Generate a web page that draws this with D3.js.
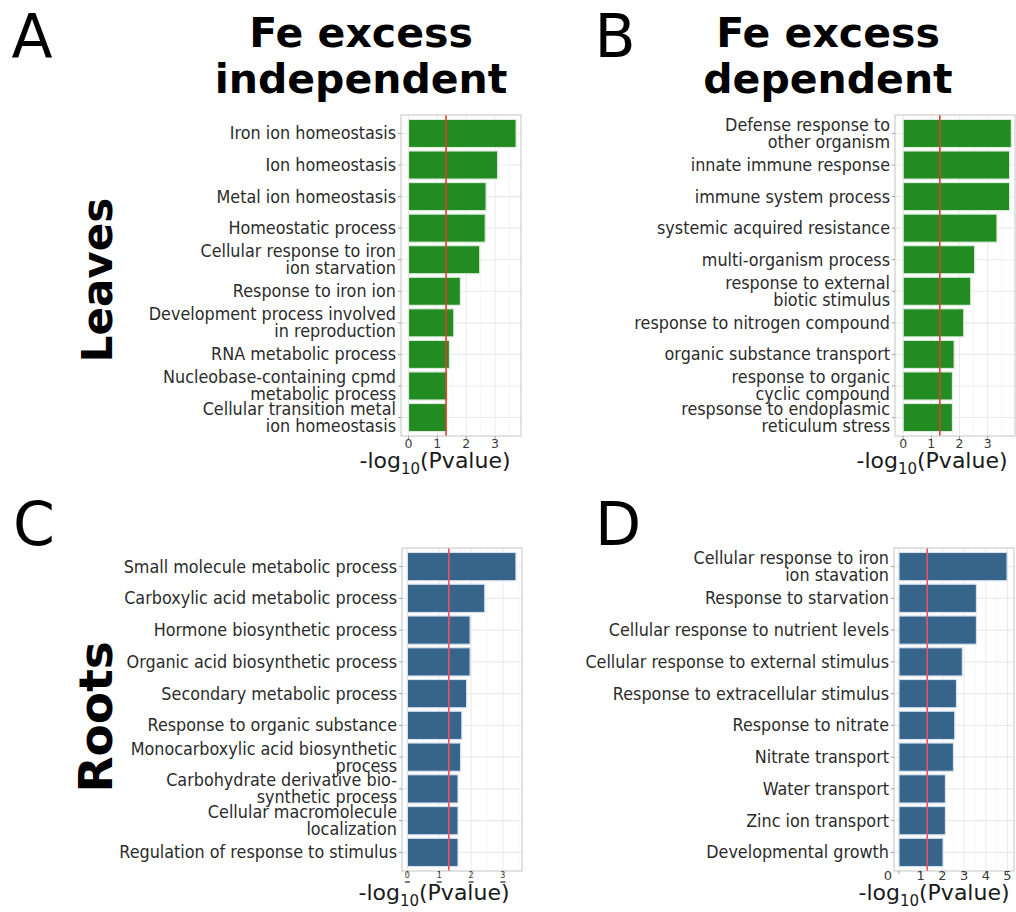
<!DOCTYPE html>
<html>
<head>
<meta charset="utf-8">
<script src="https://cdn.jsdelivr.net/npm/d3@7"></script>
<style>
  body { margin: 0; background: #fff; }
  svg { display: block; font-family: "DejaVu Sans", sans-serif; }
</style>
</head>
<body>
<svg id="chart" width="1016" height="912"></svg>
<script>
// GO enrichment of Fe-excess responsive genes, shown as -log10(P value)

const leavesIndependentTerms = [
  "Iron ion homeostasis",
  "Ion homeostasis",
  "Metal ion homeostasis",
  "Homeostatic process",
  "Cellular response to iron\nion starvation",
  "Response to iron ion",
  "Development process involved\nin reproduction",
  "RNA metabolic process",
  "Nucleobase-containing cpmd\nmetabolic process",
  "Cellular transition metal\nion homeostasis"
];
const leavesIndependentValues = [3.73, 3.09, 2.69, 2.66, 2.47, 1.80, 1.57, 1.42, 1.35, 1.33];

const leavesDependentTerms = [
  "Defense response to\nother organism",
  "innate immune response",
  "immune system process",
  "systemic acquired resistance",
  "multi-organism process",
  "response to external\nbiotic stimulus",
  "response to nitrogen compound",
  "organic substance transport",
  "response to organic\ncyclic compound",
  "respsonse to endoplasmic\nreticulum stress"
];
const leavesDependentValues = [3.84, 3.78, 3.78, 3.33, 2.54, 2.40, 2.15, 1.81, 1.75, 1.75];

const rootsIndependentTerms = [
  "Small molecule metabolic process",
  "Carboxylic acid metabolic process",
  "Hormone biosynthetic process",
  "Organic acid biosynthetic process",
  "Secondary metabolic process",
  "Response to organic substance",
  "Monocarboxylic acid biosynthetic\nprocess",
  "Carbohydrate derivative bio-\nsynthetic process",
  "Cellular macromolecule\nlocalization",
  "Regulation of response to stimulus"
];
const rootsIndependentValues = [3.41, 2.43, 1.97, 1.97, 1.86, 1.71, 1.67, 1.59, 1.59, 1.59];

const rootsDependentTerms = [
  "Cellular response to iron\nion stavation",
  "Response to starvation",
  "Cellular response to nutrient levels",
  "Cellular response to external stimulus",
  "Response to extracellular stimulus",
  "Response to nitrate",
  "Nitrate transport",
  "Water transport",
  "Zinc ion transport",
  "Developmental growth"
];
const rootsDependentValues = [4.98, 3.57, 3.57, 2.92, 2.65, 2.57, 2.51, 2.14, 2.14, 2.03];

const ticksLeaves = [0, 1, 2, 3];
const ticksRootsIndependent = [0, 1, 2, 3];
const ticksRootsDependent = [0, 1, 2, 3, 4, 5];

const columnTitles = ["Fe excess\nindependent", "Fe excess\ndependent"];
const rowTitles = ["Leaves", "Roots"];
const panelLetters = ["A", "B", "C", "D"];

// -log10(0.05)
const threshold = -Math.log10(0.05);

const GREEN = "#228b22";
const BLUE = "#36648b";

const panels = [
  { letter: 0, terms: leavesIndependentTerms, values: leavesIndependentValues, ticks: ticksLeaves,
    fill: GREEN, stroke: "#dcebdc", line: "#e0402a",
    l: 401, r: 521, t: 115, b: 436, dom: [-0.26, 3.9],
    tickFont: 12.5, tickY: 447.5, titleX: 435, titleY: 468, tiny: false },
  { letter: 1, terms: leavesDependentTerms, values: leavesDependentValues, ticks: ticksLeaves,
    fill: GREEN, stroke: "#dcebdc", line: "#e0402a",
    l: 895, r: 1015, t: 115, b: 436, dom: [-0.29, 3.97],
    tickFont: 12.5, tickY: 447.5, titleX: 932, titleY: 468, tiny: false },
  { letter: 2, terms: rootsIndependentTerms, values: rootsIndependentValues, ticks: ticksRootsIndependent,
    fill: BLUE, stroke: "#d6e1ec", line: "#ec5062",
    l: 402, r: 522, t: 548, b: 871, dom: [-0.17, 3.6],
    tickFont: 8, tickY: 878, titleX: 434, titleY: 900, tiny: true },
  { letter: 3, terms: rootsDependentTerms, values: rootsDependentValues, ticks: ticksRootsDependent,
    fill: BLUE, stroke: "#d6e1ec", line: "#ec5062",
    l: 894, r: 1014, t: 548, b: 871, dom: [-0.23, 5.3],
    tickFont: 13, tickY: 880, titleX: 934, titleY: 900, tiny: false }
];

const svg = d3.select("#chart");

panels.forEach(p => {
  const g = svg.append("g");
  const x = d3.scaleLinear().domain(p.dom).range([p.l, p.r]);
  const y = d3.scaleBand().domain(p.terms).range([p.t, p.b])
    .paddingInner(0.11).paddingOuter(0.14);

  // panel background + grid
  g.append("rect").attr("x", p.l).attr("y", p.t).attr("width", p.r - p.l).attr("height", p.b - p.t)
    .attr("fill", "#fff");
  const minor = d3.range(0.5, p.dom[1], 1);
  g.selectAll(".minor").data(minor).join("line")
    .attr("x1", d => x(d)).attr("x2", d => x(d)).attr("y1", p.t).attr("y2", p.b)
    .attr("stroke", "#f2f2f2").attr("stroke-width", 0.6);
  g.selectAll(".major").data(p.ticks).join("line")
    .attr("x1", d => x(d)).attr("x2", d => x(d)).attr("y1", p.t).attr("y2", p.b)
    .attr("stroke", "#ebebeb").attr("stroke-width", 1.1);
  g.selectAll(".hgrid").data(p.terms).join("line")
    .attr("x1", p.l).attr("x2", p.r)
    .attr("y1", d => y(d) + y.bandwidth() / 2).attr("y2", d => y(d) + y.bandwidth() / 2)
    .attr("stroke", "#ebebeb").attr("stroke-width", 1.1);

  // bars
  g.selectAll(".bar").data(p.terms).join("rect")
    .attr("x", x(0))
    .attr("y", d => y(d))
    .attr("width", (d, i) => x(p.values[i]) - x(0))
    .attr("height", y.bandwidth())
    .attr("fill", p.fill)
    .attr("stroke", p.stroke).attr("stroke-width", 1.2);

  // significance threshold
  g.append("line")
    .attr("x1", x(threshold)).attr("x2", x(threshold)).attr("y1", p.t).attr("y2", p.b)
    .attr("stroke", p.line).attr("stroke-width", 1.6);

  // border
  g.append("rect").attr("x", p.l).attr("y", p.t).attr("width", p.r - p.l).attr("height", p.b - p.t)
    .attr("fill", "none").attr("stroke", "#c4c4c4").attr("stroke-width", 1);

  // y axis ticks and category labels
  g.selectAll(".ytick").data(p.terms).join("line")
    .attr("x1", p.l - 3).attr("x2", p.l)
    .attr("y1", d => y(d) + y.bandwidth() / 2).attr("y2", d => y(d) + y.bandwidth() / 2)
    .attr("stroke", "#a0a0a0").attr("stroke-width", 1);

  const lineH = 17;
  g.selectAll(".ylab").data(p.terms).join("text")
    .attr("text-anchor", "end")
    .attr("font-size", 17.5)
    .attr("fill", "#2b2b2b")
    .attr("transform", `translate(${p.l - 5},0) scale(0.915,1)`)
    .each(function (d) {
      const lines = d.split("\n");
      const cy = y(d) + y.bandwidth() / 2;
      const t = d3.select(this);
      lines.forEach((ln, k) => {
        t.append("tspan")
          .attr("x", 0)
          .attr("y", cy - (lines.length - 1) * lineH / 2 + k * lineH + 6)
          .text(ln);
      });
    });

  // x axis ticks
  g.selectAll(".xtick").data(p.ticks).join("line")
    .attr("x1", d => x(d)).attr("x2", d => x(d)).attr("y1", p.b).attr("y2", p.b + 3)
    .attr("stroke", "#a0a0a0");
  g.selectAll(".xlab").data(p.ticks).join("text")
    .attr("x", d => x(d) - (p.letter === 3 && d === 0 ? 11 : 0))
    .attr("y", p.tickY)
    .attr("text-anchor", "middle")
    .attr("font-size", p.tickFont)
    .attr("fill", "#3a3a3a")
    .text(d => d);
  if (p.tiny) {
    g.selectAll(".xmark").data(p.ticks).join("line")
      .attr("x1", d => x(d) - 2.5).attr("x2", d => x(d) + 2.5)
      .attr("y1", p.tickY + 4).attr("y2", p.tickY + 4)
      .attr("stroke", "#222").attr("stroke-width", 1.2);
  }

  // x axis title
  const xt = g.append("text")
    .attr("x", p.titleX).attr("y", p.titleY)
    .attr("text-anchor", "middle")
    .attr("font-size", 22)
    .attr("fill", "#1a1a1a");
  xt.append("tspan").text("-log");
  xt.append("tspan").attr("font-size", 15).attr("dy", 6).text("10");
  xt.append("tspan").attr("dy", -6).text("(Pvalue)");
});

// panel letters
const letterPos = [[32, 57], [615, 57], [34, 545], [618, 545]];
svg.selectAll(".letter").data(panelLetters).join("text")
  .attr("x", (d, i) => letterPos[i][0]).attr("y", (d, i) => letterPos[i][1])
  .attr("text-anchor", "middle")
  .attr("font-size", 60)
  .attr("fill", "#000")
  .text(d => d);

// column titles
const colX = [361, 828];
columnTitles.forEach((t, i) => {
  const txt = svg.append("text")
    .attr("text-anchor", "middle")
    .attr("font-size", 41)
    .attr("font-weight", "bold")
    .attr("fill", "#000");
  t.split("\n").forEach((ln, k) => {
    txt.append("tspan").attr("x", colX[i]).attr("y", 47 + k * 46).text(ln);
  });
});

// row titles
const rowY = [280, 717];
const rowSize = [42, 47];
rowTitles.forEach((t, i) => {
  svg.append("text")
    .attr("transform", `translate(112,${rowY[i]}) rotate(-90)`)
    .attr("text-anchor", "middle")
    .attr("font-size", rowSize[i])
    .attr("font-weight", "bold")
    .attr("fill", "#000")
    .text(t);
});
</script>
</body>
</html>
